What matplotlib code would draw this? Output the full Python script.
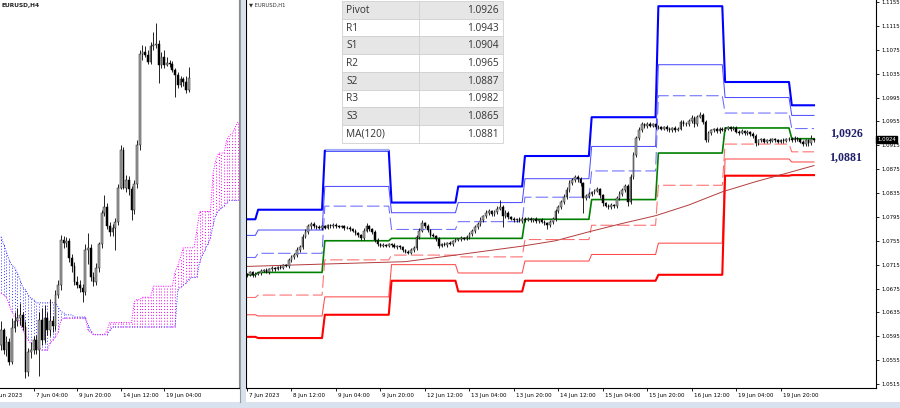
import numpy as np
import matplotlib.pyplot as plt
from matplotlib.patches import Rectangle
from matplotlib.transforms import blended_transform_factory as blend, offset_copy

# ---------------- H4 panel (left) ----------------
h4_open0 = 1.0685
h4_close = [1.0698, 1.0680, 1.0687, 1.0669, 1.0700, 1.0706, 1.0709, 1.0712, 1.0701, 1.0660,
            1.0678, 1.0680, 1.0689, 1.0680, 1.0707, 1.0689, 1.0709, 1.0698, 1.0706, 1.0702,
            1.0730, 1.0739, 1.0780, 1.0777, 1.0779, 1.0764, 1.0756, 1.0742, 1.0739, 1.0736,
            1.0733, 1.0771, 1.0773, 1.0746, 1.0742, 1.0755, 1.0776, 1.0805, 1.0810, 1.0793,
            1.0787, 1.0791, 1.0796, 1.0827, 1.0862, 1.0827, 1.0835, 1.0826, 1.0807, 1.0831,
            1.0866, 1.0949, 1.0951, 1.0948, 1.0942, 1.0956, 1.0957, 1.0958, 1.0939, 1.0946,
            1.0939, 1.0941, 1.0940, 1.0935, 1.0930, 1.0921, 1.0926, 1.0924, 1.0916, 1.0927]
h4_high = [1.0706, 1.0700, 1.0693, 1.0691, 1.0709, 1.0715, 1.0718, 1.0723, 1.0715, 1.0706,
           1.0682, 1.0687, 1.0693, 1.0694, 1.0715, 1.0718, 1.0721, 1.0715, 1.0726, 1.0711,
           1.0735, 1.0744, 1.0785, 1.0784, 1.0783, 1.0782, 1.0767, 1.0760, 1.0747, 1.0744,
           1.0740, 1.0776, 1.0786, 1.0776, 1.0751, 1.0759, 1.0778, 1.0807, 1.0821, 1.0814,
           1.0796, 1.0795, 1.0800, 1.0831, 1.0866, 1.0865, 1.0839, 1.0838, 1.0829, 1.0835,
           1.0871, 1.0953, 1.0957, 1.0956, 1.0953, 1.0960, 1.0969, 1.0977, 1.0962, 1.0951,
           1.0953, 1.0946, 1.0944, 1.0943, 1.0936, 1.0933, 1.0929, 1.0928, 1.0929, 1.0937]
h4_low = [1.0680, 1.0676, 1.0675, 1.0666, 1.0667, 1.0696, 1.0702, 1.0703, 1.0698, 1.0655,
          1.0656, 1.0673, 1.0676, 1.0676, 1.0656, 1.0685, 1.0686, 1.0694, 1.0693, 1.0696,
          1.0698, 1.0727, 1.0735, 1.0773, 1.0774, 1.0760, 1.0751, 1.0739, 1.0736, 1.0733,
          1.0724, 1.0730, 1.0758, 1.0743, 1.0738, 1.0739, 1.0751, 1.0773, 1.0802, 1.0790,
          1.0784, 1.0784, 1.0771, 1.0794, 1.0826, 1.0826, 1.0824, 1.0821, 1.0798, 1.0804,
          1.0827, 1.0862, 1.0944, 1.0946, 1.0940, 1.0940, 1.0953, 1.0955, 1.0923, 1.0936,
          1.0936, 1.0938, 1.0937, 1.0933, 1.0910, 1.0918, 1.0919, 1.0920, 1.0914, 1.0915]

# ichimoku cloud edges (shifted 26 bars forward, so they run past the last candle)
kumo_blue = [1.0783, 1.0776, 1.0769, 1.0762, 1.0757, 1.0755, 1.0750, 1.0744, 1.0737, 1.0735,
             1.0730, 1.0727, 1.0726, 1.0723, 1.0723, 1.0723, 1.0723, 1.0723, 1.0723, 1.0723,
             1.0723, 1.0719, 1.0715, 1.0714, 1.0712, 1.0712, 1.0712, 1.0710, 1.0710, 1.0710,
             1.0710, 1.0710, 1.0703, 1.0698, 1.0694, 1.0694, 1.0694, 1.0694, 1.0694, 1.0694,
             1.0698, 1.0701, 1.0701, 1.0701, 1.0701, 1.0701, 1.0701, 1.0701, 1.0701, 1.0701,
             1.0701, 1.0701, 1.0701, 1.0701, 1.0701, 1.0701, 1.0701, 1.0701, 1.0701, 1.0701,
             1.0701, 1.0701, 1.0701, 1.0701, 1.0701, 1.0735, 1.0737, 1.0739, 1.0741, 1.0744,
             1.0746, 1.0746, 1.0746, 1.0760, 1.0766, 1.0771, 1.0776, 1.0782, 1.0794, 1.0803,
             1.0807, 1.0809, 1.0811, 1.0814, 1.0816, 1.0816, 1.0816, 1.0816, 1.0816]
kumo_magenta = [1.0732, 1.0730, 1.0728, 1.0721, 1.0715, 1.0710, 1.0709, 1.0705, 1.0698, 1.0694,
                1.0689, 1.0686, 1.0685, 1.0683, 1.0682, 1.0680, 1.0680, 1.0680, 1.0686, 1.0689,
                1.0692, 1.0696, 1.0707, 1.0709, 1.0709, 1.0709, 1.0709, 1.0709, 1.0709, 1.0709,
                1.0709, 1.0709, 1.0698, 1.0696, 1.0694, 1.0694, 1.0694, 1.0694, 1.0694, 1.0698,
                1.0705, 1.0705, 1.0705, 1.0705, 1.0705, 1.0705, 1.0705, 1.0705, 1.0705, 1.0724,
                1.0726, 1.0726, 1.0728, 1.0728, 1.0728, 1.0728, 1.0738, 1.0738, 1.0738, 1.0738,
                1.0738, 1.0738, 1.0738, 1.0738, 1.0751, 1.0757, 1.0764, 1.0773, 1.0773, 1.0773,
                1.0773, 1.0773, 1.0789, 1.0806, 1.0806, 1.0806, 1.0806, 1.0806, 1.0841, 1.0853,
                1.0859, 1.0859, 1.0859, 1.0871, 1.0875, 1.0877, 1.0882, 1.0887, 1.0887]

h4_ticks = [-4, 12, 28, 44, 60]
h4_labels = ['5 Jun 2023', '7 Jun 04:00', '9 Jun 20:00', '14 Jun 12:00', '19 Jun 04:00']

# ---------------- H1 panel (right) ----------------
h1_open0 = 1.0699
h1_close = [1.0698, 1.0702, 1.0697, 1.0700,
            1.0701, 1.0704, 1.0706, 1.0703, 1.0707, 1.0709, 1.0708, 1.0711, 1.0710, 1.0714, 1.0713, 1.0722,
            1.0728, 1.0731, 1.0740, 1.0745, 1.0762, 1.0770, 1.0779, 1.0783, 1.0780, 1.0778, 1.0776, 1.0779,
            1.0777, 1.0781, 1.0779, 1.0782, 1.0780, 1.0778, 1.0779, 1.0776, 1.0777, 1.0774, 1.0772, 1.0768,
            1.0764, 1.0760, 1.0772, 1.0779, 1.0775, 1.0770, 1.0757, 1.0750, 1.0747, 1.0748, 1.0746, 1.0749,
            1.0748, 1.0745, 1.0746, 1.0744, 1.0740, 1.0737, 1.0735, 1.0740, 1.0743, 1.0761, 1.0772, 1.0784,
            1.0780, 1.0773, 1.0765, 1.0763, 1.0758, 1.0747, 1.0750, 1.0748, 1.0751, 1.0750, 1.0755, 1.0757,
            1.0758, 1.0760, 1.0758, 1.0761, 1.0766, 1.0771, 1.0778, 1.0783, 1.0790, 1.0796, 1.0802, 1.0805,
            1.0800, 1.0803, 1.0809, 1.0812, 1.0796, 1.0802, 1.0795, 1.0792, 1.0789, 1.0791, 1.0788, 1.0792,
            1.0790, 1.0792, 1.0789, 1.0791, 1.0788, 1.0790, 1.0787, 1.0784, 1.0781, 1.0786, 1.0791, 1.0805,
            1.0812, 1.0820, 1.0829, 1.0840, 1.0852, 1.0857, 1.0862, 1.0858, 1.0851, 1.0826, 1.0830, 1.0833,
            1.0836, 1.0839, 1.0841, 1.0831, 1.0818, 1.0814, 1.0812, 1.0815, 1.0813, 1.0827, 1.0834, 1.0840,
            1.0846, 1.0820, 1.0862, 1.0899, 1.0927, 1.0941, 1.0950, 1.0947, 1.0951, 1.0948, 1.0950, 1.0946,
            1.0945, 1.0943, 1.0946, 1.0942, 1.0940, 1.0944, 1.0941, 1.0943, 1.0954, 1.0950, 1.0951, 1.0956,
            1.0961, 1.0950, 1.0963, 1.0966, 1.0954, 1.0924, 1.0936, 1.0940, 1.0942, 1.0939, 1.0943, 1.0941,
            1.0943, 1.0945, 1.0942, 1.0944, 1.0938, 1.0936, 1.0939, 1.0935, 1.0937, 1.0934, 1.0931, 1.0918,
            1.0923, 1.0925, 1.0921, 1.0924, 1.0922, 1.0925, 1.0923, 1.0921, 1.0924, 1.0922, 1.0925, 1.0926,
            1.0924, 1.0927, 1.0925, 1.0921, 1.0917, 1.0923, 1.0918, 1.0925, 1.0924]
# wick length beyond the body, in pips
h1_wick_up = [2, 3, 2, 2,
              2, 3, 2, 3, 2, 3, 2, 2, 3, 2, 2, 4, 3, 3, 4, 3, 5, 4, 4, 3, 3, 2, 3, 2,
              3, 2, 2, 3, 2, 2, 3, 2, 2, 2, 3, 2, 2, 3, 4, 6, 3, 2, 3, 2, 2, 3, 2, 2,
              2, 3, 2, 2, 3, 2, 2, 3, 3, 4, 4, 6, 3, 3, 2, 3, 2, 3, 2, 3, 2, 3, 2, 2,
              2, 3, 2, 3, 3, 4, 3, 3, 4, 3, 4, 3, 2, 3, 4, 11, 3, 4, 3, 2, 3, 2, 3, 2,
              2, 3, 2, 2, 3, 2, 3, 2, 3, 3, 4, 4, 3, 4, 4, 5, 4, 3, 4, 3, 3, 3, 3, 3,
              3, 3, 4, 3, 3, 2, 3, 3, 2, 3, 4, 3, 4, 4, 5, 5, 4, 4, 4, 3, 3, 3, 3, 3,
              3, 3, 2, 3, 3, 2, 3, 3, 4, 3, 3, 3, 4, 3, 3, 5, 3, 3, 3, 3, 2, 3, 2, 3,
              3, 3, 2, 3, 3, 2, 3, 2, 3, 2, 3, 3, 3, 2, 3, 2, 3, 3, 2, 3, 2, 3, 2, 3,
              3, 3, 2, 3, 2, 3, 2, 7, 3]
h1_wick_dn = [3, 2, 3, 2,
              2, 3, 2, 2, 3, 2, 3, 2, 2, 3, 2, 3, 3, 4, 3, 4, 3, 3, 3, 4, 3, 3, 2, 3,
              3, 2, 3, 2, 3, 2, 2, 3, 2, 3, 2, 3, 3, 4, 3, 3, 3, 4, 4, 3, 2, 3, 2, 2,
              3, 2, 3, 2, 3, 3, 3, 2, 3, 3, 3, 3, 4, 3, 3, 2, 3, 4, 3, 2, 3, 2, 3, 2,
              2, 3, 2, 2, 3, 3, 3, 3, 3, 4, 3, 3, 3, 3, 3, 3, 18, 3, 4, 3, 3, 3, 2, 3,
              3, 2, 3, 2, 3, 3, 2, 3, 7, 3, 3, 3, 3, 4, 3, 4, 3, 3, 3, 4, 4, 24, 3, 3,
              3, 3, 3, 4, 4, 3, 3, 3, 3, 3, 3, 4, 4, 7, 4, 4, 4, 3, 3, 3, 3, 3, 3, 3,
              3, 2, 3, 3, 3, 2, 3, 2, 3, 3, 3, 3, 3, 4, 3, 3, 3, 4, 3, 3, 2, 3, 3, 2,
              2, 3, 3, 2, 3, 3, 2, 3, 3, 3, 3, 4, 3, 3, 3, 3, 3, 2, 3, 3, 3, 3, 2, 3,
              3, 3, 3, 3, 4, 3, 4, 3, 3]

# daily pivot levels: 7 Jun (tail), 8, 9, 12, 13, 14, 15, 16, 19, 20 Jun
day_bars = [4, 24, 24, 24, 24, 24, 24, 24, 24, 9]
lvl_r3 = [1.0791, 1.0807, 1.0906, 1.0819, 1.0846, 1.0897, 1.0962, 1.1148, 1.1021, 1.0982]
lvl_r2 = [1.0764, 1.0773, 1.0846, 1.0802, 1.0819, 1.0859, 1.0913, 1.1050, 1.0995, 1.0965]
lvl_r1 = [1.0727, 1.0734, 1.0813, 1.0774, 1.0787, 1.0828, 1.0872, 1.0998, 1.0969, 1.0943]
lvl_pv = [1.0698, 1.0702, 1.0755, 1.0759, 1.0759, 1.0791, 1.0824, 1.0902, 1.0944, 1.0926]
lvl_s1 = [1.0660, 1.0664, 1.0723, 1.0731, 1.0728, 1.0757, 1.0781, 1.0848, 1.0917, 1.0904]
lvl_s2 = [1.0631, 1.0629, 1.0661, 1.0715, 1.0701, 1.0721, 1.0732, 1.0751, 1.0892, 1.0887]
lvl_s3 = [1.0594, 1.0592, 1.0631, 1.0688, 1.0670, 1.0688, 1.0688, 1.0698, 1.0864, 1.0865]

# MA(120) read at a few bars
ma_bar = [0, 28, 57, 75, 99, 111, 123, 135, 147, 159, 171, 183, 194, 204]
ma_val = [1.0712, 1.0716, 1.0720, 1.0731, 1.0746, 1.0755, 1.0770, 1.0784, 1.0797, 1.0815,
          1.0837, 1.0854, 1.0868, 1.0881]

h1_ticks = [0, 16, 32, 48, 64, 80, 96, 112, 128, 144, 160, 176, 192]
h1_labels = ['7 Jun 2023', '8 Jun 12:00', '9 Jun 04:00', '9 Jun 20:00', '12 Jun 12:00',
             '13 Jun 04:00', '13 Jun 20:00', '14 Jun 12:00', '15 Jun 04:00', '15 Jun 20:00',
             '16 Jun 12:00', '19 Jun 04:00', '19 Jun 20:00']
price_ticks = [1.0515, 1.0555, 1.0595, 1.0635, 1.0675, 1.0715, 1.0755, 1.0795, 1.0835,
               1.0875, 1.0915, 1.0955, 1.0995, 1.1035, 1.1075, 1.1115, 1.1155]
last_price = 1.0924

table_rows = ['Pivot', 'R1', 'S1', 'R2', 'S2', 'R3', 'S3', 'MA(120)']
table_vals = ['1.0926', '1.0943', '1.0904', '1.0965', '1.0887', '1.0982', '1.0865', '1.0881']
side_notes = ['1,0926', '1,0881']


W, H = 900, 408
fig = plt.figure(figsize=(W / 100, H / 100), dpi=100)
fig.patch.set_facecolor('white')


def box(x0, y0, x1, y1):
    return [x0 / W, 1 - y1 / H, (x1 - x0) / W, (y1 - y0) / H]


def draw_candles(ax, o, h, l, c, width):
    x = np.arange(len(c))
    up = c >= o
    body = np.maximum(np.abs(c - o), 0.00004)
    ax.vlines(x, l, h, color='black', lw=0.6, zorder=3)
    ax.bar(x[up], body[up], width, bottom=o[up], color='#a8a8a8',
           edgecolor='#202020', lw=0.35, zorder=4)
    ax.bar(x[~up], body[~up], width, bottom=c[~up], color='black',
           edgecolor='black', lw=0.35, zorder=4)


def date_labels(ax, ticks, labels):
    tr = offset_copy(blend(ax.transData, ax.transAxes), fig=fig, x=2, y=-8, units='dots')
    for t, lab in zip(ticks, labels):
        ax.text(t, 0, lab, transform=tr, ha='left', va='center', fontsize=4.1,
                color='black', clip_on=False)


# ---- left: H4 with ichimoku cloud ----
axl = fig.add_axes(box(0, 0, 239, 388))
axl.set_xlim(-0.37, 87.5)
axl.set_ylim(1.06455, 1.09982)

kb = np.array(kumo_blue)
km = np.array(kumo_magenta)
kx = np.arange(len(kb))
top_blue = kb >= km
dots = (0, (1, 2))
axl.vlines(kx[top_blue], km[top_blue], kb[top_blue], colors='#3a3aff', lw=0.7, linestyles=dots)
axl.vlines(kx[~top_blue], kb[~top_blue], km[~top_blue], colors='#ff00ff', lw=0.7, linestyles=dots)
axl.plot(kx, kb, color='#3a3aff', lw=0.7, ls=(0, (1, 1.5)))
axl.plot(kx, km, color='#ff00ff', lw=0.7, ls=(0, (1, 1.5)))

c4 = np.array(h4_close)
o4 = np.r_[h4_open0, c4[:-1]]
draw_candles(axl, o4, np.array(h4_high), np.array(h4_low), c4, 0.65)

for s in ['top', 'left']:
    axl.spines[s].set_visible(False)
axl.spines['bottom'].set_linewidth(0.8)
axl.spines['right'].set_color('#8a8a8a')
axl.set_yticks([])
axl.set_xticks(h4_ticks[1:])
axl.set_xticklabels([])
axl.tick_params(axis='x', length=2.5, width=0.6, direction='out')
date_labels(axl, h4_ticks, h4_labels)

# ---- right: H1 with daily pivots ----
axr = fig.add_axes(box(246, 0, 876, 388))
axr.set_xlim(-0.36, 226.3)
axr.set_ylim(1.05083, 1.11584)

n1 = len(h1_close)
xi = np.arange(n1)
dash = (0, (12, 4))
levels = [
    (lvl_r3, '#0000ff', 1.5, '-'),
    (lvl_r2, '#5050ff', 0.75, '-'),
    (lvl_r1, '#6b6bff', 0.75, dash),
    (lvl_pv, '#008000', 1.2, '-'),
    (lvl_s1, '#ff6a6a', 0.75, dash),
    (lvl_s2, '#ff4a4a', 0.75, '-'),
    (lvl_s3, '#ff0000', 1.5, '-'),
]
for vals, col, lw, ls in levels:
    axr.plot(xi, np.repeat(vals, day_bars), color=col, lw=lw, ls=ls, zorder=2)
axr.plot(ma_bar, ma_val, color='#b33c3c', lw=0.7, zorder=2)

c1 = np.array(h1_close)
o1 = np.r_[h1_open0, c1[:-1]]
hi1 = np.maximum(o1, c1) + np.array(h1_wick_up) * 1e-4
lo1 = np.minimum(o1, c1) - np.array(h1_wick_dn) * 1e-4
draw_candles(axr, o1, hi1, lo1, c1, 0.6)

axr.spines['top'].set_visible(False)
for s in ['left', 'right', 'bottom']:
    axr.spines[s].set_linewidth(0.8)
axr.yaxis.tick_right()
axr.set_yticks(price_ticks)
axr.set_yticklabels([f'{v:.4f}' for v in price_ticks])
axr.tick_params(axis='y', labelsize=3.9, length=2.5, width=0.6, pad=1.2)
axr.set_xticks(h1_ticks)
axr.set_xticklabels([])
axr.tick_params(axis='x', length=2.5, width=0.6, direction='out')
date_labels(axr, h1_ticks, h1_labels)

axr.text(1.0015, last_price, f'{last_price:.4f}', transform=blend(axr.transAxes, axr.transData),
         ha='left', va='center', fontsize=3.9, color='white', zorder=10, clip_on=False,
         bbox=dict(boxstyle='square,pad=0.2', fc='black', ec='black'))

# ---- overlay in pixel coordinates: window chrome, titles, table ----
ov = fig.add_axes([0, 0, 1, 1], zorder=5)
ov.set_xlim(0, W)
ov.set_ylim(H, 0)
ov.axis('off')

ov.add_patch(Rectangle((0, 402), W, 6, fc='#d8e2ee', ec='none'))
ov.add_patch(Rectangle((240, 0), 6, 402, fc='#d8e2ee', ec='none'))
ov.plot([239.6, 239.6], [0, 402], color='#9a9a9a', lw=0.8)

ov.text(1, 5, 'EURUSD,H4', fontsize=4.2, fontweight='bold', ha='left', va='center', color='#222222')
ov.text(249, 5, '▼ EURUSD,H1', fontsize=3.8, ha='left', va='center', color='#333333')

x0, xm, x1 = 342, 419, 503
top, rh = 1, 17.7
for r, (name, val) in enumerate(zip(table_rows, table_vals)):
    y = top + r * rh
    ov.add_patch(Rectangle((x0, y), x1 - x0, rh, fc='#e6e6e6' if r % 2 == 0 else 'white',
                           ec='#d0d0d0', lw=0.6))
    ov.text(x0 + 4, y + rh / 2 + 0.5, name, family='Open Sans', fontsize=7.3,
            ha='left', va='center', color='#333333')
    ov.text(x1 - 4, y + rh / 2 + 0.5, val, family='Open Sans', fontsize=7.3,
            ha='right', va='center', color='#333333')
ov.plot([xm, xm], [top, top + len(table_rows) * rh], color='#d0d0d0', lw=0.6)
ov.plot([327, 388], [149.5, 149.5], color='#a4aef2', lw=1.6)

for txt, yy in zip(side_notes, [133, 157]):
    ov.text(846, yy, txt, family='Liberation Serif', fontweight='bold', fontsize=8.6,
            ha='center', va='center', color='#1f1f6b')

fig.savefig('out.png', dpi=100)
